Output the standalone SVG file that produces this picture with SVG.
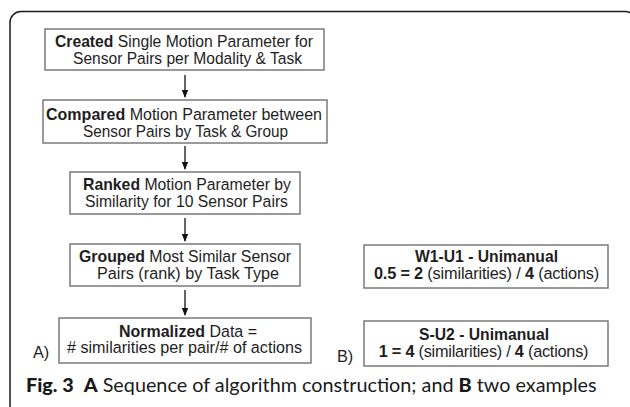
<svg xmlns="http://www.w3.org/2000/svg" width="630" height="407" viewBox="0 0 630 407">
<defs>
<style>
.frame{fill:none;stroke:#1a1a1a;stroke-width:1.5}
.box{fill:#fff;stroke:#7a7a7a;stroke-width:1.5}
.t{font-family:"Liberation Sans",Arial,sans-serif;font-size:16.3px;fill:#1e1e1e;text-anchor:middle}
.lbl{font-family:"Liberation Sans",Arial,sans-serif;font-size:16.3px;fill:#1e1e1e}
.b{font-weight:bold}
.cap{font-family:Lato,"Open Sans",sans-serif;font-size:19.8px;fill:#1a1a1a}
.conn{stroke:#111;stroke-width:1.3;fill:none;marker-end:url(#ah)}
</style>
<marker id="ah" markerWidth="8" markerHeight="8" refX="7" refY="4" orient="auto" markerUnits="userSpaceOnUse">
<path d="M0,0.8 L8,4 L0,7.2 Z" fill="#111"/>
</marker>
</defs>
<rect width="630" height="407" fill="#fff"/>
<rect class="frame" x="10" y="11.5" width="626" height="405" rx="11"/>
<g id="connectors">
<line class="conn" x1="185" y1="75" x2="185" y2="97"/>
<line class="conn" x1="185" y1="146" x2="185" y2="169"/>
<line class="conn" x1="185" y1="218" x2="185" y2="241"/>
<line class="conn" x1="185" y1="290" x2="185" y2="315"/>
</g>
<g id="n1">
<rect class="box" x="45" y="29" width="279" height="41"/>
<text class="t" x="184" y="47" textLength="258" lengthAdjust="spacingAndGlyphs"><tspan class="b">Created</tspan> Single Motion Parameter for</text>
<text class="t" x="187.5" y="64" textLength="229" lengthAdjust="spacingAndGlyphs">Sensor Pairs per Modality &amp; Task</text>
</g>
<g id="n2">
<rect class="box" x="43" y="100" width="284" height="43"/>
<text class="t" x="184" y="120" textLength="276" lengthAdjust="spacingAndGlyphs"><tspan class="b">Compared</tspan> Motion Parameter between</text>
<text class="t" x="185.5" y="137" textLength="205" lengthAdjust="spacingAndGlyphs">Sensor Pairs by Task &amp; Group</text>
</g>
<g id="n3">
<rect class="box" x="70" y="172" width="230" height="42"/>
<text class="t" x="187" y="190" textLength="208" lengthAdjust="spacingAndGlyphs"><tspan class="b">Ranked</tspan> Motion Parameter by</text>
<text class="t" x="186.5" y="207" textLength="203" lengthAdjust="spacingAndGlyphs">Similarity for 10 Sensor Pairs</text>
</g>
<g id="n4">
<rect class="box" x="70" y="244" width="230" height="42"/>
<text class="t" x="185" y="262" textLength="212" lengthAdjust="spacingAndGlyphs"><tspan class="b">Grouped</tspan> Most Similar Sensor</text>
<text class="t" x="188" y="279" textLength="182" lengthAdjust="spacingAndGlyphs">Pairs (rank) by Task Type</text>
</g>
<g id="n5">
<rect class="box" x="59" y="318" width="252" height="45"/>
<text class="t" x="188" y="336.5" textLength="138" lengthAdjust="spacingAndGlyphs"><tspan class="b">Normalized</tspan> Data =</text>
<text class="t" x="184.5" y="353" textLength="235" lengthAdjust="spacingAndGlyphs"># similarities per pair/# of actions</text>
</g>
<text class="lbl" x="33" y="358">A)</text>
<g id="b1">
<rect class="box" x="364" y="245" width="244" height="43"/>
<text class="t b" x="486.5" y="262" textLength="143" lengthAdjust="spacingAndGlyphs">W1-U1 - Unimanual</text>
<text class="t" x="486.5" y="279" letter-spacing="-0.17"><tspan class="b">0.5 = 2</tspan> (similarities) / <tspan class="b">4</tspan> (actions)</text>
</g>
<g id="b2">
<rect class="box" x="364" y="321" width="244" height="45"/>
<text class="t b" x="484" y="340" textLength="130" lengthAdjust="spacingAndGlyphs">S-U2 - Unimanual</text>
<text class="t" x="483.5" y="357" letter-spacing="-0.24"><tspan class="b">1 = 4</tspan> (similarities) / <tspan class="b">4</tspan> (actions)</text>
</g>
<text class="lbl" x="337" y="362">B)</text>
<g id="caption">
<text class="cap" x="26" y="392"><tspan font-weight="900">Fig. 3</tspan><tspan dx="10" font-weight="900">A</tspan> Sequence of algorithm construction; and <tspan font-weight="900">B</tspan> two examples</text>
</g>
</svg>
